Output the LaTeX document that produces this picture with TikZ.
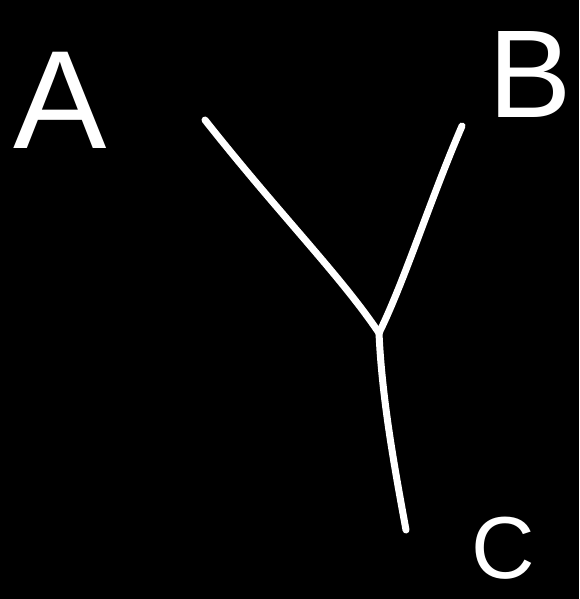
\documentclass[tikz,border=0pt]{standalone}
\usepackage{fontspec}
\setmainfont{Liberation Sans}
\tikzset{
  stroke/.style={draw=white, line width=7pt, line cap=round, line join=round},
  letter/.style={text=white, inner sep=0pt, anchor=center}
}
\begin{document}
\begin{tikzpicture}[x=1pt,y=-1pt]
\fill[black] (0,0) rectangle (579,599);
\useasboundingbox (0,0) rectangle (579,599);
\node[letter, font=\fontsize{140}{140}\selectfont] (A) at (60,100) {A};
\node[letter, font=\fontsize{125}{125}\selectfont] (B) at (530,75) {B};
\node[letter, font=\fontsize{88}{88}\selectfont] (C) at (503,548) {C};
\coordinate (J) at (379,333);
\coordinate (a) at (205,120);
\coordinate (b) at (462,126);
\coordinate (c) at (406,530);
\draw[stroke] (a) .. controls (280,215) and (340,275) .. (J);
\draw[stroke] (b) .. controls (430,200) and (405,280) .. (J);
\draw[stroke] (J) .. controls (382,400) and (395,470) .. (c);
\end{tikzpicture}
\end{document}
